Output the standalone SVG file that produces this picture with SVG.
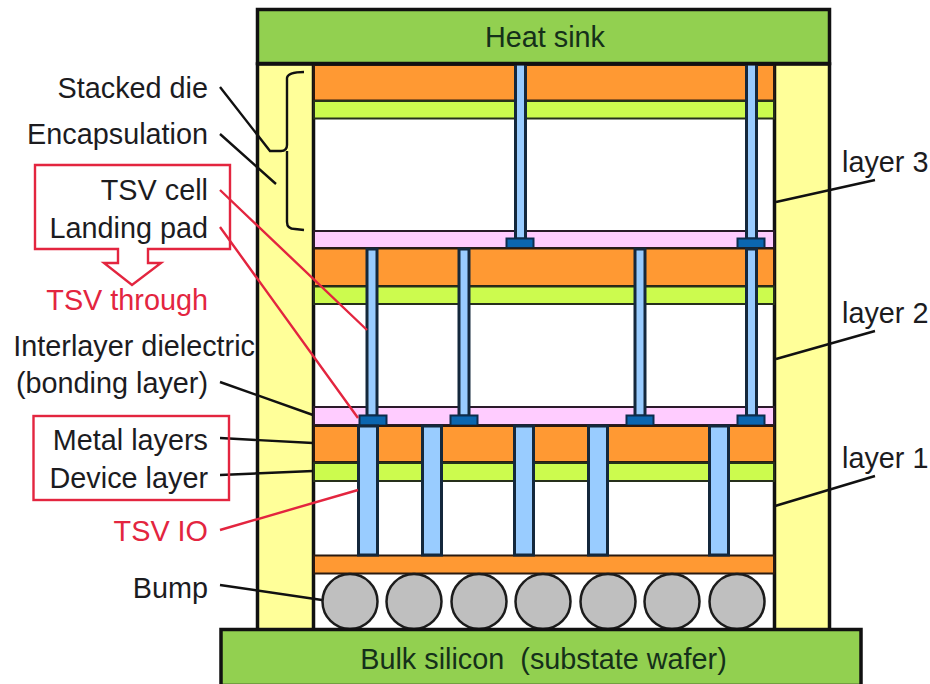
<svg xmlns="http://www.w3.org/2000/svg" width="930" height="684" viewBox="0 0 930 684">
<style>
text{font-family:"Liberation Sans",Arial,sans-serif;font-size:28.8px;fill:#1c1c1f}
.r{text-anchor:end}
.red{fill:#e3253f}
.sink{fill:#92d050;stroke:#111;stroke-width:3.5}
.yel{fill:#ffff99;stroke:#111;stroke-width:3.5}
.or{fill:#ff9933;stroke:#2a1a10;stroke-width:2}
.gr{fill:#ccfb4e;stroke:#26301a;stroke-width:2}
.pk{fill:#ffccff;stroke:#2a1a2a;stroke-width:2}
.tsv{fill:#99ccff;stroke:#14283c;stroke-width:3}
.pad{fill:#0b66b0;stroke:#0c2c4c;stroke-width:2}
.bump{fill:#bfbfbf;stroke:#1c1c1c;stroke-width:2.5}
.lb{fill:none;stroke:#111;stroke-width:2.4}
.lr{fill:none;stroke:#e3253f;stroke-width:2.4}
</style>
<rect width="930" height="684" fill="#fff"/>
<g id="encapsulation">
<rect class="yel" x="257.500" y="64" width="56" height="566"/>
<rect class="yel" x="774.500" y="64" width="55" height="566"/>
</g>
<g id="layer3">
<rect class="or" x="314" y="65" width="460" height="35.500"/>
<rect class="gr" x="314" y="101" width="460" height="17.500"/>
<rect class="pk" x="314" y="231" width="460" height="17"/>
<rect class="tsv" x="515.500" y="64" width="10" height="175"/>
<rect class="tsv" x="746.500" y="64" width="10" height="175"/>
<rect class="pad" x="506.500" y="238.500" width="27" height="9.500"/>
<rect class="pad" x="737.500" y="238.500" width="27" height="9.500"/>
</g>
<g id="layer2">
<rect class="or" x="314" y="248.500" width="460" height="37.500"/>
<rect class="gr" x="314" y="286.500" width="460" height="17.500"/>
<rect class="pk" x="314" y="407" width="460" height="18"/>
<rect class="tsv" x="367" y="249" width="10" height="167"/>
<rect class="tsv" x="459" y="249" width="10" height="167"/>
<rect class="tsv" x="635" y="249" width="10" height="167"/>
<rect class="tsv" x="746.500" y="249" width="10" height="167"/>
<rect class="pad" x="359.500" y="415.500" width="27" height="10"/>
<rect class="pad" x="450.500" y="415.500" width="27" height="10"/>
<rect class="pad" x="626.500" y="415.500" width="27" height="10"/>
<rect class="pad" x="737.500" y="415.500" width="27" height="10"/>
</g>
<g id="layer1">
<rect class="or" x="314" y="426" width="460" height="36"/>
<rect class="gr" x="314" y="463" width="460" height="18"/>
<rect class="or" x="314" y="555.500" width="460" height="18"/>
<rect class="tsv" x="358.500" y="426" width="19" height="129"/>
<rect class="tsv" x="422.500" y="426" width="19" height="129"/>
<rect class="tsv" x="514.500" y="426" width="19" height="129"/>
<rect class="tsv" x="588.500" y="426" width="19" height="129"/>
<rect class="tsv" x="709.500" y="426" width="19" height="129"/>
</g>
<g id="bumps">
<circle class="bump" cx="350" cy="601.500" r="27.500"/>
<circle class="bump" cx="414" cy="601.500" r="27.500"/>
<circle class="bump" cx="479" cy="601.500" r="27.500"/>
<circle class="bump" cx="543" cy="601.500" r="27.500"/>
<circle class="bump" cx="608" cy="601.500" r="27.500"/>
<circle class="bump" cx="672" cy="601.500" r="27.500"/>
<circle class="bump" cx="737" cy="601.500" r="27.500"/>
</g>
<g id="heat-sink">
<rect class="sink" x="257.500" y="9.500" width="572" height="54"/>
<text x="545" y="47" text-anchor="middle" style="fill:#15301a">Heat sink</text>
</g>
<g id="bulk-silicon">
<rect class="sink" x="221" y="629.500" width="640" height="56"/>
<text x="543.500" y="669" text-anchor="middle" style="fill:#15301a;white-space:pre">Bulk silicon  (substate wafer)</text>
</g>
<g id="connectors">
<path class="lb" d="M304 72Q288 72 287 78V145Q287 151 281 151H270L220 87"/>
<path class="lb" d="M287 151V222Q287 229 295 229L304 230"/>
<path class="lb" d="M220 134L276 184M220 382L313 415M220 438L313 443M220 475L313 471M220 585L322 600M875 180L776 202M875 331L776 359M875 476L775 506"/>
<path class="lr" d="M220 190L367 330M220 227L358 418M220 530L358 490"/>
<path class="lr" d="M35 165H230V249H148V263H161L132 285L104 263H118V249H35Z"/>
<rect class="lr" x="33.500" y="416" width="195.500" height="84"/>
</g>
<g id="labels">
<text class="r" x="208" y="98">Stacked die</text>
<text class="r" x="208" y="144">Encapsulation</text>
<text class="r" x="208" y="200">TSV cell</text>
<text class="r" x="208" y="238">Landing pad</text>
<text class="r red" x="208" y="310">TSV through</text>
<text class="r" x="255" y="356">Interlayer dielectric</text>
<text class="r" x="208" y="393">(bonding layer)</text>
<text class="r" x="208" y="450">Metal layers</text>
<text class="r" x="208" y="488">Device layer</text>
<text class="r red" x="208" y="541">TSV IO</text>
<text class="r" x="208" y="598">Bump</text>
<text x="842" y="172">layer 3</text>
<text x="842" y="323">layer 2</text>
<text x="842" y="468">layer 1</text>
</g>
</svg>
